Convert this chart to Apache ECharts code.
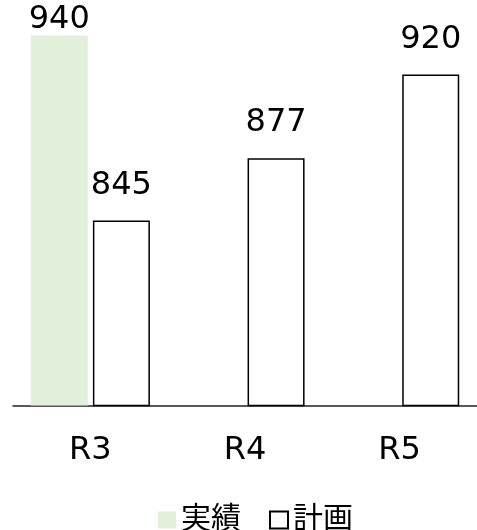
<!DOCTYPE html>
<html>
<head>
<meta charset="utf-8">
<script src="https://cdn.jsdelivr.net/npm/echarts@6/dist/echarts.min.js"></script>
<style>
html,body{margin:0;padding:0;background:#fff;}
#chart{width:477px;height:530px;}
</style>
</head>
<body>
<div id="chart"></div>
<script>
const categories = ['R3', 'R4', 'R5'];
const actualValues = [940, '-', '-'];
const planValues = [845, 877, 920];
const seriesNames = ['実績', '計画'];

const FONT = "'DejaVu Sans', 'Noto Sans CJK JP', sans-serif";
const chart = echarts.init(document.getElementById('chart'), null, {renderer: 'canvas'});
chart.setOption({
  animation: false,
  backgroundColor: '#ffffff',
  textStyle: {fontFamily: FONT},
  grid: {left: 13, top: 16, width: 472.5, height: 389.5, containLabel: false},
  legend: {
    data: seriesNames,
    left: 153,
    top: 500,
    icon: 'rect',
    itemWidth: 18,
    itemHeight: 17,
    itemGap: 28,
    textStyle: {fontFamily: FONT, fontSize: 30, color: '#000'}
  },
  xAxis: {
    type: 'category',
    data: categories,
    axisLine: {show: true, lineStyle: {color: '#222', width: 1.5}},
    axisTick: {show: false},
    axisLabel: {fontFamily: FONT, fontSize: 32, color: '#000', margin: 29}
  },
  yAxis: {
    type: 'value',
    min: 750,
    max: 950,
    show: false,
    splitLine: {show: false}
  },
  series: [
    {
      name: seriesNames[0],
      type: 'bar',
      data: actualValues,
      barWidth: 57,
      barGap: '9%',
      itemStyle: {color: '#E2EFDA'},
      label: {show: true, position: 'top', distance: 0, fontFamily: FONT, fontSize: 32, color: '#000'}
    },
    {
      name: seriesNames[1],
      type: 'bar',
      data: planValues,
      barWidth: 57,
      barGap: '9%',
      itemStyle: {color: '#ffffff', borderColor: '#000', borderWidth: 1.5},
      label: {show: true, position: 'top', distance: 19, fontFamily: FONT, fontSize: 32, color: '#000'}
    }
  ]
});
</script>
</body>
</html>
